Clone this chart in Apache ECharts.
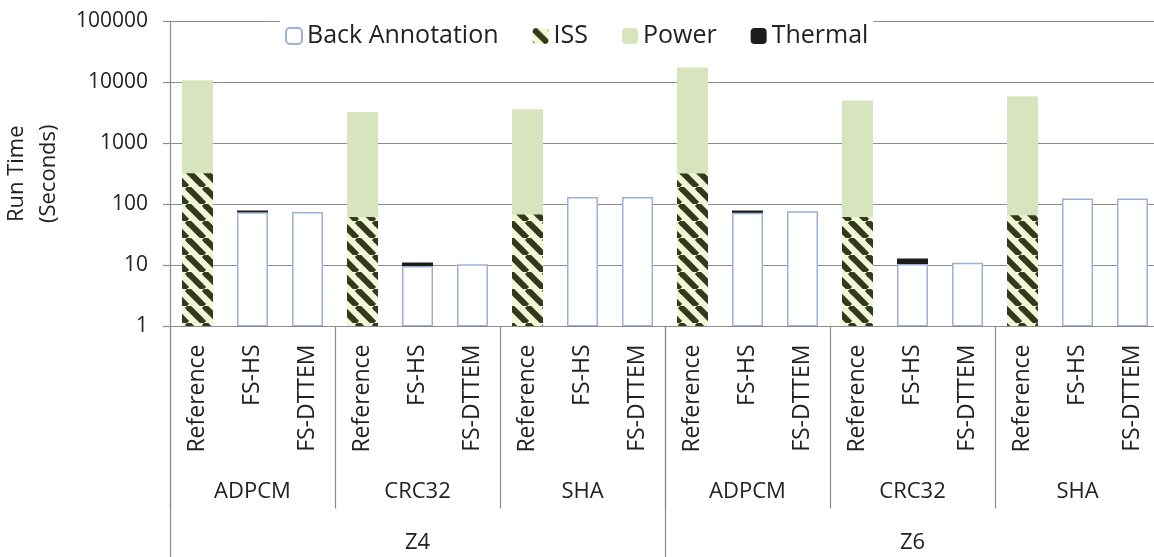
<!DOCTYPE html>
<html>
<head>
<meta charset="utf-8">
<script src="https://cdn.jsdelivr.net/npm/echarts@6/dist/echarts.min.js"></script>
<style>
html,body{margin:0;padding:0;background:#fff;}
#chart{width:1154px;height:557px;}
</style>
</head>
<body>
<div id="chart"></div>
<script>
// ---- data ----
const categories = ['Reference','FS-HS','FS-DTTEM','Reference','FS-HS','FS-DTTEM','Reference','FS-HS','FS-DTTEM',
                    'Reference','FS-HS','FS-DTTEM','Reference','FS-HS','FS-DTTEM','Reference','FS-HS','FS-DTTEM'];
const benchmarks = ['ADPCM','CRC32','SHA','ADPCM','CRC32','SHA'];
const zones = ['Z4','Z6'];
const yTicks = [1,10,100,1000,10000,100000];
const backAnnotation = [null,74,75, null,9.8,10.4, null,132,132, null,73,77, null,10.5,11, null,124,124];
const iss =            [322,null,null, 62,null,null, 68,null,null, 318,null,null, 62,null,null, 66,null,null];
const power =          [10400,null,null, 3170,null,null, 3530,null,null, 17080,null,null, 4940,null,null, 5780,null,null];
const thermal =        [null,5,null, null,1.4,null, null,null,null, null,6,null, null,2.5,null, null,null,null];

// cumulative tops (overlapping bars on log axis)
const cum = (a,b) => a.map((v,i) => (b[i]==null) ? '-' : ((v==null?0:v) + b[i]));
const dash = a => a.map(v => v==null ? '-' : v);
const powerTop = cum(iss, power);
const thermalTop = cum(backAnnotation, thermal);

// hatch pattern for ISS
function hatch(){
  const s = 17;
  const c = document.createElement('canvas');
  c.width = s; c.height = s;
  const ctx = c.getContext('2d');
  ctx.fillStyle = '#f4f7d6';
  ctx.fillRect(0,0,s,s);
  ctx.strokeStyle = '#2f3b1c';
  ctx.lineWidth = 6;
  for (const k of [-s,0,s]) {
    ctx.beginPath();
    ctx.moveTo(k, 0);
    ctx.lineTo(k + s, s);
    ctx.stroke();
  }
  return c;
}
const issFill = {image: hatch(), repeat: 'repeat'};

const font = 'Open Sans';
const gray = '#8c8c8c';
const BW = 31;

const chart = echarts.init(document.getElementById('chart'), null, {renderer:'canvas'});
chart.setOption({
  animation: false,
  backgroundColor: '#fff',
  textStyle: {fontFamily: font},
  legend: {
    data: ['Back Annotation','ISS','Power','Thermal'],
    left: 280, top: 17,
    itemWidth: 16, itemHeight: 16, itemGap: 34,
    textStyle: {fontFamily: font, fontSize: 25, color: '#222', lineHeight: 28},
    backgroundColor: '#fff'
  },
  grid: {left: 170, top: 21, width: 990, height: 305.5, containLabel: false, outerBoundsMode: 'none'},
  xAxis: [
    {
      type: 'category', data: categories, position: 'bottom',
      axisLine: {show: true, lineStyle: {color: gray, width: 1.2}},
      axisTick: {show: false},
      axisLabel: {interval: 0, rotate: 90, margin: 18, fontFamily: font, fontSize: 23, color: '#222'},
      z: 10
    },
    {
      type: 'category', data: benchmarks, position: 'bottom',
      axisLine: {show: false},
      axisTick: {show: true, length: 182, lineStyle: {color: gray, width: 1.2}},
      axisLabel: {interval: 0, margin: 154, fontFamily: font, fontSize: 22, color: '#222'}
    },
    {
      type: 'category', data: zones, position: 'bottom',
      axisLine: {show: false},
      axisTick: {show: true, length: 240, lineStyle: {color: gray, width: 1.2}},
      axisLabel: {interval: 0, margin: 205, fontFamily: font, fontSize: 22, color: '#222'}
    }
  ],
  yAxis: {
    type: 'log', logBase: 10, min: yTicks[0], max: yTicks[yTicks.length-1],
    name: 'Run Time\n(Seconds)', nameLocation: 'middle', nameRotate: 90, nameGap: 99,
    nameTextStyle: {fontFamily: font, fontSize: 22, color: '#222', lineHeight: 32},
    axisLine: {show: true, lineStyle: {color: gray, width: 1.2}},
    axisTick: {show: true, length: 7, lineStyle: {color: gray, width: 1.2}},
    axisLabel: {margin: 22, fontFamily: font, fontSize: 21, color: '#222', formatter: v => String(v)},
    splitLine: {show: true, lineStyle: {color: gray, width: 1.2}}
  },
  series: [
    {name: 'Thermal', type: 'bar', data: thermalTop, barWidth: BW, barGap: '-100%',
     itemStyle: {color: '#1c1c1c'}},
    {name: 'Power', type: 'bar', data: powerTop, barWidth: BW, barGap: '-100%',
     itemStyle: {color: '#d7e4bd'}},
    {name: 'ISS', type: 'bar', data: dash(iss), barWidth: BW, barGap: '-100%',
     itemStyle: {color: issFill}},
    {name: 'Back Annotation', type: 'bar', data: dash(backAnnotation), barWidth: BW, barGap: '-100%',
     itemStyle: {color: '#ffffff', borderColor: '#9db1d8', borderWidth: 1.5}}
  ]
});
</script>
</body>
</html>
